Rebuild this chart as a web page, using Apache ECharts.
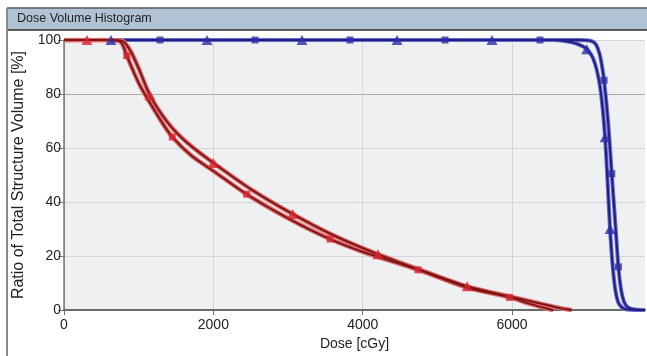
<!DOCTYPE html>
<html>
<head>
<meta charset="utf-8">
<script src="https://cdn.jsdelivr.net/npm/echarts@6/dist/echarts.min.js"></script>
<style>
html,body{margin:0;padding:0;background:#fff;}
#c{width:647px;height:356px;}
</style>
</head>
<body>
<div id="c"></div>
<script>
// ---- data (dose cGy, volume %) ----
const xTickLabels = [0, 2000, 4000, 6000];
const yTickLabels = [0, 20, 40, 60, 80, 100];

const redTriangleCurve = [[0,100],[600,100],[760,99.8],[820,98.8],[900,95.5],[1000,89.5],[1150,79.5],[1300,72.8],[1450,67.4],[1600,63.2],[1800,58.6],[2000,54.5],[2500,44.8],[3060,35.6],[3600,27.8],[4200,20.7],[4800,14.6],[5400,8.8],[5960,5.1],[6300,2.9],[6600,1.0],[6800,0]];
const redSquareCurve = [[0,100],[600,100],[720,99.8],[780,98.5],[840,94.2],[920,89],[1020,83],[1150,76.8],[1300,70],[1450,64.1],[1700,57.3],[2000,51.5],[2446,42.9],[3000,34],[3562,26.3],[4000,21.6],[4741,14.9],[5400,8.3],[5966,4.7],[6250,2.2],[6450,0.7],[6550,0]];
const blueTriangleCurve = [[0,100],[6550,100],[6700,99.6],[6850,98.8],[6950,97.6],[7000,96.6],[7080,93.5],[7150,87],[7200,78],[7245,64],[7280,47],[7312,30],[7345,17],[7380,8],[7420,3],[7470,1],[7540,0.2],[7780,0]];
const blueSquareCurve = [[0,100],[6900,100],[7050,99.7],[7120,98.5],[7170,95],[7200,91],[7232,85.1],[7285,70],[7335,50.5],[7380,33],[7424,16],[7460,7.5],[7500,3],[7550,1],[7620,0.3],[7780,0]];

const redTriangleMarks = [[308,100],[1150,79.5],[2000,54.5],[3062,35.6],[4205,20.7],[5400,8.8]];
const redSquareMarks = [[840,94.2],[1450,64.1],[2446,42.9],[3562,26.3],[4741,14.9],[5966,4.7]];
const blueTriangleMarks = [[630,100],[1915,100],[3187,100],[4460,100],[5732,100],[7000,96.6],[7245,64],[7312,30]];
const blueSquareMarks = [[1286,100],[2558,100],[3830,100],[5102,100],[6375,100],[7232,85.1],[7335,50.5],[7424,16]];

const xMax = 7780;

const chart = echarts.init(document.getElementById('c'), null, {renderer:'canvas'});

function curve(data, color, width, z){
  return {type:'line', data:data, showSymbol:false, symbol:'none', smooth:0.3,
    lineStyle:{color:color, width:width}, z:z, silent:true, animation:false};
}
function marks(data, shape, size, color, z){
  return {type:'scatter', data:data, symbol:shape, symbolSize:size, itemStyle:{color:color}, z:z, animation:false};
}

const font = 'Liberation Sans, Arial, sans-serif';

chart.setOption({
  animation:false,
  backgroundColor:'#ffffff',
  grid:{left:64, right:2, top:40, bottom:40, show:true, backgroundColor:'#eef0f2', borderWidth:0},
  xAxis:{
    type:'value', min:0, max:xMax, interval:500,
    axisLine:{show:true, onZero:false, lineStyle:{color:'#6a6a6a', width:2}},
    axisTick:{show:true, customValues:xTickLabels, length:5, lineStyle:{color:'#6a6a6a'}},
    axisLabel:{customValues:xTickLabels, formatter:(v)=>String(v), color:'#222', fontFamily:font, fontSize:14, margin:8},
    splitLine:{show:true, lineStyle:{color:['#a9abad','#d3d5d8','#d3d5d8','#d3d5d8'], width:1}},
    name:'Dose [cGy]', nameLocation:'middle', nameGap:19,
    nameTextStyle:{color:'#222', fontFamily:font, fontSize:14}
  },
  yAxis:{
    type:'value', min:0, max:100, interval:5,
    axisLine:{show:true, lineStyle:{color:'#7a7a7a', width:1.5}},
    axisTick:{show:true, customValues:yTickLabels, length:6, lineStyle:{color:'#7a7a7a'}},
    axisLabel:{customValues:yTickLabels, formatter:(v)=>String(v), color:'#222', fontFamily:font, fontSize:14, margin:3},
    splitLine:{show:true, lineStyle:{color:['#a9abad','#d3d5d8','#d3d5d8','#d3d5d8'], width:1}},
    name:'Ratio of Total Structure Volume [%]', nameLocation:'middle', nameGap:36,
    nameTextStyle:{color:'#222', fontFamily:font, fontSize:16}
  },
  series:[
    curve(blueTriangleCurve, '#6a6ac8', 4, 2),
    curve(blueSquareCurve, '#6a6ac8', 4, 2),
    curve(blueTriangleCurve, '#1f1f86', 2, 3),
    curve(blueSquareCurve, '#1f1f86', 2, 3),
    curve(redTriangleCurve, '#e06a6e', 4.5, 4),
    curve(redSquareCurve, '#e06a6e', 4.5, 4),
    curve(redTriangleCurve, '#7e1616', 2, 5),
    curve(redSquareCurve, '#7e1616', 2, 5),
    marks(blueTriangleMarks, 'triangle', [11,10], '#2c2ea6', 10),
    marks(blueSquareMarks, 'rect', 7, '#2c2ea6', 10),
    marks(redTriangleMarks, 'triangle', [11,10], '#d8232e', 10),
    marks(redSquareMarks, 'rect', 7, '#d8232e', 10)
  ],
  graphic:[
    {type:'rect', shape:{x:8, y:8, width:640, height:22}, style:{fill:'#b0c3d5'}, z:100},
    {type:'line', shape:{x1:7, y1:8, x2:647, y2:8}, style:{stroke:'#5a5a5a', lineWidth:1.5}, z:101},
    {type:'line', shape:{x1:7, y1:30, x2:647, y2:30}, style:{stroke:'#2e2e2e', lineWidth:1.5}, z:101},
    {type:'line', shape:{x1:7, y1:8, x2:7, y2:356}, style:{stroke:'#8a8a8a', lineWidth:2}, z:101},
    {type:'text', x:17, y:19, style:{text:'Dose Volume Histogram', fill:'#222', font:'12.5px "Liberation Sans", Arial, sans-serif', textVerticalAlign:'middle'}, z:102}
  ]
});
</script>
</body>
</html>
